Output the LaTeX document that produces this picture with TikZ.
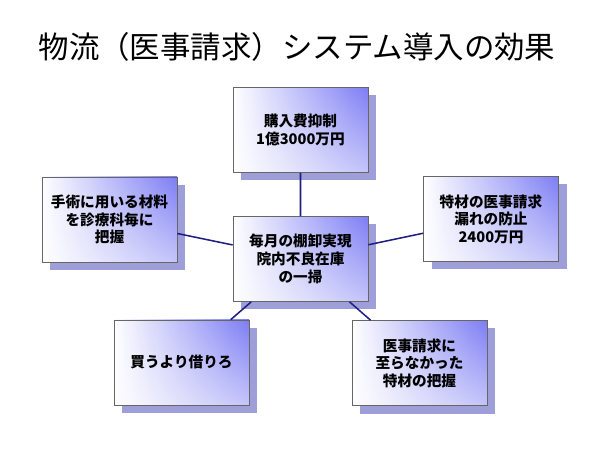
\documentclass[tikz,border=0pt]{standalone}
\usepackage{fontspec}
\setmainfont{Noto Sans CJK JP}
\usepackage{tikz}
\usetikzlibrary{shadows,fadings,positioning}
\definecolor{boxblue}{RGB}{125,125,245}
\definecolor{shadowblue}{RGB}{158,158,216}
\definecolor{linkblue}{RGB}{30,30,130}
\tikzset{
  koka/.style={draw=gray!80!black, line width=0.6pt, left color=white, middle color=boxblue!22, right color=boxblue,
    path picture={\fill[white, fill opacity=0.55, path fading=north] (path picture bounding box.south west) rectangle (path picture bounding box.north east);},
    minimum width=4.05cm, minimum height=2.55cm, align=center, font=\fontsize{12.5}{15}\selectfont\bfseries,
    drop shadow={shadow xshift=0.24cm, shadow yshift=-0.24cm, fill=shadowblue, opacity=1}},
  link/.style={draw=linkblue, line width=1.3pt}
}

\begin{document}
\begin{tikzpicture}
\useasboundingbox (0,0) rectangle (18,13.5);
\coordinate (T) at (8.91,12.09);
\coordinate (C) at (9.015,5.73);
\coordinate (U) at (9.015,9.6);
\coordinate (L) at (3.285,6.915);
\coordinate (R) at (14.73,6.93);
\coordinate (BL) at (5.445,2.625);
\coordinate (BR) at (12.585,2.61);
\node (title) at (T) {\fontsize{26}{30}\selectfont 物流（医事請求）システム導入の効果};
\node [koka] (tana) at (C) {毎月の棚卸実現\\院内不良在庫\\の一掃};
\node [koka] (kounyu) at (U) {購入費抑制\\1億3000万円};
\node [koka] (shujutsu) at (L) {手術に用いる材料\\を診療科毎に\\把握};
\node [koka] (tokuzai) at (R) {特材の医事請求\\漏れの防止\\2400万円};
\node [koka] (kariro) at (BL) {買うより借りろ};
\node [koka] (haaku) at (BR) {医事請求に\\至らなかった\\特材の把握};
\draw [link] (tana)--(kounyu) (tana)--(shujutsu) (tana)--(tokuzai) (tana)--(kariro) (tana)--(haaku);
\end{tikzpicture}
\end{document}
